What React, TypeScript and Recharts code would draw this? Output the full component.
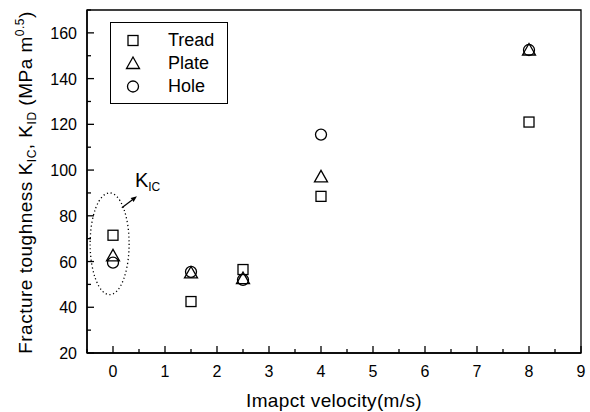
import {
  ScatterChart,
  Scatter,
  XAxis,
  YAxis,
  ReferenceArea,
  ReferenceLine,
  Legend,
} from "recharts";

const FONT = "'Liberation Sans', Arial, Helvetica, sans-serif";

// impact velocity (m/s)
const velocity = [0, 1.5, 2.5, 4, 8];
// fracture toughness (MPa m^0.5)
const tread = [71.5, 42.5, 56.5, 88.5, 121];
const plate = [62.5, 55, 52.5, 97, 152.5];
const hole = [59.5, 55.5, 52, 115.5, 152.5];
const seriesNames = ["Tread", "Plate", "Hole"];

const xTicks = [-0.5, 0, 0.5, 1, 1.5, 2, 2.5, 3, 3.5, 4, 4.5, 5, 5.5, 6, 6.5, 7, 7.5, 8, 8.5, 9];
const xLabels = [0, 1, 2, 3, 4, 5, 6, 7, 8, 9];
const yTicks = [20, 30, 40, 50, 60, 70, 80, 90, 100, 110, 120, 130, 140, 150, 160, 170];
const yLabels = [20, 40, 60, 80, 100, 120, 140, 160];

// K_IC ellipse and arrow (data units)
const kicBox = { x1: -0.44, x2: 0.31, y1: 45.5, y2: 90 };
const kicArrow = [{ x: 0.17, y: 83.5 }, { x: 0.46, y: 88.5 }];

const toPoints = (ys: number[]) => velocity.map((v, i) => ({ x: v, y: ys[i] }));

function Marker({ kind, cx, cy }: { kind: string; cx: number; cy: number }) {
  const common = { fill: "none", stroke: "#000", strokeWidth: 1.3 };
  if (kind === "square") return <rect x={cx - 5} y={cy - 5} width={10} height={10} {...common} />;
  if (kind === "triangle")
    return <polygon points={`${cx},${cy - 6.5} ${cx - 6.5},${cy + 5} ${cx + 6.5},${cy + 5}`} {...common} />;
  return <circle cx={cx} cy={cy} r={5.5} {...common} />;
}

const kinds: Record<string, string> = { Tread: "square", Plate: "triangle", Hole: "circle" };

function XTick(props: any) {
  const { x, y, payload } = props;
  const major = xLabels.includes(payload.value);
  return (
    <g>
      <line x1={x} x2={x} y1={y} y2={y - (major ? 7 : 4)} stroke="#000" strokeWidth={1.3} />
      {major && (
        <text x={x} y={y + 24} textAnchor="middle" fontSize={16} fontFamily={FONT} fill="#000">
          {payload.value}
        </text>
      )}
    </g>
  );
}

function YTick(props: any) {
  const { x, y, payload } = props;
  const major = yLabels.includes(payload.value);
  return (
    <g>
      <line x1={x} x2={x + (major ? 7 : 4)} y1={y} y2={y} stroke="#000" strokeWidth={1.3} />
      {major && (
        <text x={x - 10} y={y + 6} textAnchor="end" fontSize={16} fontFamily={FONT} fill="#000">
          {payload.value}
        </text>
      )}
    </g>
  );
}

function YLabel(props: any) {
  const vb = props.viewBox || { x: 0, y: 10, width: 87, height: 343 };
  const cx = vb.x + 32;
  const cy = vb.y + vb.height / 2 + 1;
  return (
    <text
      x={cx}
      y={cy}
      transform={`rotate(-90 ${cx} ${cy})`}
      textAnchor="middle"
      fontSize={19}
      letterSpacing={0.5}
      fontFamily={FONT}
      fill="#000"
    >
      Fracture toughness K
      <tspan fontSize={12} dy={4}>IC</tspan>
      <tspan dy={-4}>, K</tspan>
      <tspan fontSize={12} dy={4}>ID</tspan>
      <tspan dy={-4}> (MPa m</tspan>
      <tspan fontSize={12} dy={-8}>0.5</tspan>
      <tspan dy={8}>)</tspan>
    </text>
  );
}

function XLabel(props: any) {
  const vb = props.viewBox || { x: 87, y: 353, width: 494, height: 59 };
  return (
    <text
      x={vb.x + vb.width / 2}
      y={vb.y + 54}
      textAnchor="middle"
      fontSize={19}
      letterSpacing={0.35}
      fontFamily={FONT}
      fill="#000"
    >
      Imapct velocity(m/s)
    </text>
  );
}

function EllipseShape(props: any) {
  const { x, y, width, height } = props;
  return (
    <ellipse
      cx={x + width / 2}
      cy={y + height / 2}
      rx={width / 2}
      ry={height / 2}
      fill="none"
      stroke="#000"
      strokeWidth={1.3}
      strokeDasharray="1.2 2.6"
    />
  );
}

function ArrowShape(props: any) {
  const { x1, y1, x2, y2 } = props;
  const a = Math.atan2(y2 - y1, x2 - x1);
  const L = 6;
  const W = 2.5;
  const bx = x2 - L * Math.cos(a);
  const by = y2 - L * Math.sin(a);
  const px = -Math.sin(a) * W;
  const py = Math.cos(a) * W;
  return (
    <g>
      <line x1={x1} y1={y1} x2={bx} y2={by} stroke="#000" strokeWidth={1.2} />
      <polygon points={`${x2},${y2} ${bx + px},${by + py} ${bx - px},${by - py}`} fill="#000" />
      <text x={x2 - 2} y={y2 - 9} fontSize={20} fontFamily={FONT} fill="#000">
        K
        <tspan fontSize={12} dy={4}>IC</tspan>
      </text>
    </g>
  );
}

function LegendBox(props: any) {
  const items = [...(props.payload || [])].sort(
    (a: any, b: any) => seriesNames.indexOf(a.value) - seriesNames.indexOf(b.value)
  );
  return (
    <div
      style={{
        width: 116,
        height: 80,
        border: "1.5px solid #000",
        background: "#fff",
        fontFamily: FONT,
        fontSize: 18,
        position: "relative",
      }}
    >
      {items.map((it: any, i: number) => (
        <div key={it.value} style={{ position: "absolute", left: 0, top: 6 + i * 23, height: 23, display: "flex", alignItems: "center" }}>
          <svg width={46} height={23} style={{ display: "block" }}>
            <Marker kind={kinds[it.value]} cx={22} cy={11.5} />
          </svg>
          <span style={{ marginLeft: 11, color: "#000" }}>{it.value}</span>
        </div>
      ))}
    </div>
  );
}

export default function App() {
  return (
    <div style={{ width: 590, height: 412, background: "#fff" }}>
      <style>{`body{margin:0;background:#fff}`}</style>
      <ScatterChart width={590} height={412} margin={{ top: 10, right: 9, left: 0, bottom: 0 }}>
        <XAxis
          type="number"
          dataKey="x"
          domain={[-0.5, 9]}
          ticks={xTicks}
          interval={0}
          tickSize={0}
          tickMargin={0}
          tickLine={false}
          tick={<XTick />}
          height={59}
          axisLine={{ stroke: "#000", strokeWidth: 1.5 }}
          allowDataOverflow
          label={<XLabel />}
        />
        <YAxis
          type="number"
          dataKey="y"
          domain={[20, 170]}
          ticks={yTicks}
          interval={0}
          tickSize={0}
          tickMargin={0}
          tickLine={false}
          tick={<YTick />}
          width={87}
          axisLine={{ stroke: "#000", strokeWidth: 1.5 }}
          allowDataOverflow
          label={<YLabel />}
        />
        <ReferenceArea x1={-0.5} x2={9} y1={20} y2={170} fill="none" stroke="#000" strokeWidth={1.3} />
        <ReferenceArea {...kicBox} shape={<EllipseShape />} />
        <ReferenceLine segment={kicArrow} shape={<ArrowShape />} />
        <Legend
          layout="vertical"
          align="center"
          verticalAlign="middle"
          wrapperStyle={{ position: "absolute", left: 110, top: 22, width: "auto" }}
          content={<LegendBox />}
        />
        <Scatter name="Tread" data={toPoints(tread)} shape={(p: any) => <Marker kind="square" cx={p.cx} cy={p.cy} />} isAnimationActive={false} />
        <Scatter name="Plate" data={toPoints(plate)} shape={(p: any) => <Marker kind="triangle" cx={p.cx} cy={p.cy} />} isAnimationActive={false} />
        <Scatter name="Hole" data={toPoints(hole)} shape={(p: any) => <Marker kind="circle" cx={p.cx} cy={p.cy} />} isAnimationActive={false} />
      </ScatterChart>
    </div>
  );
}
